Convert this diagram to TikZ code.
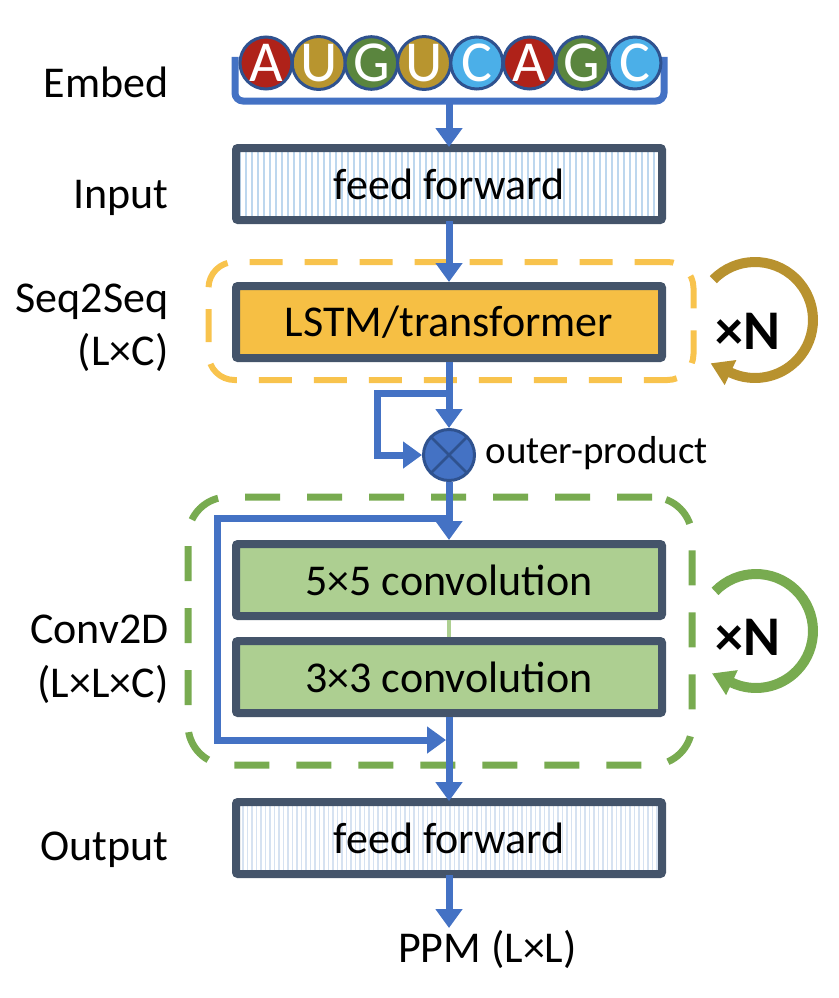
\documentclass[tikz,border=0pt]{standalone}
\usepackage{fontspec}
\setmainfont{Carlito}
\usetikzlibrary{arrows.meta, patterns.meta, positioning}
\definecolor{linkblue}{HTML}{4472C4}
\definecolor{boxslate}{HTML}{44546A}
\definecolor{darkblue}{HTML}{2F528F}
\definecolor{hatchin}{HTML}{BDD7EE}
\definecolor{hatchout}{HTML}{D6E2F1}
\definecolor{lstmorange}{HTML}{F6BF44}
\definecolor{seqorange}{HTML}{F8C34D}
\definecolor{loopgold}{HTML}{B8922F}
\definecolor{convgreen}{HTML}{ADCF91}
\definecolor{framegreen}{HTML}{78AB50}
\definecolor{baseA}{HTML}{AF2219}
\definecolor{baseU}{HTML}{B8952F}
\definecolor{baseG}{HTML}{5A853E}
\definecolor{baseC}{HTML}{4BAFE8}

\begin{document}
\begin{tikzpicture}[x=1pt, y=-1pt,
  layer/.style={rectangle, draw=boxslate, line width=8pt, rounded corners=2pt, minimum width=426pt, minimum height=72pt, inner sep=0pt, font=\fontsize{44}{44}\selectfont},
  ffin/.style={layer, pattern={Lines[angle=90, distance=6pt, line width=2pt]}, pattern color=hatchin},
  ffout/.style={layer, pattern={Lines[angle=90, distance=4.5pt, line width=1.8pt]}, pattern color=hatchout},
  sidelabel/.style={anchor=base east, font=\fontsize{44}{44}\selectfont},
  base/.style={circle, draw=darkblue, line width=3pt, minimum size=52pt, inner sep=0pt, text=white, font=\fontsize{58}{58}\selectfont},
  conn/.style={-{Triangle[length=19pt, width=26pt]}, draw=linkblue, line width=7pt},
  loop/.style={line width=10pt, -{Triangle[length=22pt, width=26pt]}},
  repeatN/.style={font=\fontsize{56}{56}\selectfont\bfseries},
  seqframe/.style={rectangle, draw=seqorange, line width=6pt, dash pattern=on 33pt off 22pt, rounded corners=26pt},
  convframe/.style={rectangle, draw=framegreen, line width=7pt, dash pattern=on 35pt off 27pt, rounded corners=40pt}
]
  \useasboundingbox (0,0) rectangle (838,998);

  % Frames
  \node[seqframe, minimum width=485pt, minimum height=118pt] (seqbox) at (451,321) {};
  \node[convframe, minimum width=504pt, minimum height=268pt] (convbox) at (440,631) {};

  % Sequence
  \coordinate (bl) at (235,57);
  \coordinate (bm) at (449,101);
  \coordinate (br) at (664,57);
  \draw[draw=linkblue, line width=7pt, rounded corners=8pt] (bl) |- (bm) -| (br);
  \foreach \nt [count=\i] in {A,U,G,U,C,A,G,C}
    \node[base, fill=base\nt] (b\i) at ({266+52.7*(\i-1)},63) {\nt};

  % Layers
  \node[ffin] (inp) at (449,184) {feed forward};
  \node[layer, fill=lstmorange] (lstm) at (449,322) {LSTM/transformer};
  \node[circle, draw=darkblue, fill=linkblue, line width=3pt, minimum size=51pt, inner sep=0pt,
    path picture={\draw[darkblue, line width=2.5pt] (path picture bounding box.center) +(45:25) -- +(225:25) +(135:25) -- +(315:25);}] (op) at (449,455) {};
  \node[anchor=base west, font=\fontsize{39}{39}\selectfont] (oplabel) at (482,463) {outer-product};
  \node[layer, fill=convgreen] (c5) at (449,580) {5×5 convolution};
  \node[layer, fill=convgreen] (c3) at (449,677) {3×3 convolution};
  \node[ffout] (out) at (449,838) {feed forward};
  \node[anchor=north west, inner sep=2pt, font=\fontsize{44}{44}\selectfont] (ppm) at (396,928) {PPM (L×L)};

  % Side labels
  \node[sidelabel] (lembed) at (172,97) {Embed};
  \node[sidelabel] (linput) at (172,208) {Input};
  \node[sidelabel] (lseq) at (172,312) {Seq2Seq};
  \node[sidelabel] (lseqdim) at (172,365) {(L×C)};
  \node[sidelabel] (lconv) at (172,643) {Conv2D};
  \node[sidelabel] (lconvdim) at (172,697) {(L×L×C)};
  \node[sidelabel] (loutput) at (172,860) {Output};

  % Repeats
  \node[repeatN] (nseq) at (748,331) {×N};
  \node[repeatN] (nconv) at (748,637) {×N};
  \draw[loop, loopgold] (755,320) ++(-136:58) arc[start angle=-136, end angle=115, radius=58] -- ++(-155:22);
  \draw[loop, framegreen] (756,631) ++(-136:57) arc[start angle=-136, end angle=115, radius=57] -- ++(-155:22);

  % Connectors
  \coordinate (s1) at (449,393);
  \coordinate (s1w) at (377,393);
  \coordinate (s2) at (449,518);
  \coordinate (s2w) at (217,518);
  \coordinate (m2) at (446,740);
  \draw[conn] (bm) -- (inp);
  \draw[conn] (inp) -- (lstm);
  \draw[conn] (lstm) -- (op);
  \draw[conn] (s1) -- (s1w) |- (op.west);
  \draw[conn] (op) -- (c5);
  \draw[conn] (s2) -- (s2w) |- (m2);
  \draw[convgreen, line width=4pt] (c5) -- (c3);
  \draw[conn] (c3) -- (out);
  \draw[conn] (out) -- (out |- ppm.north);
\end{tikzpicture}
\end{document}
